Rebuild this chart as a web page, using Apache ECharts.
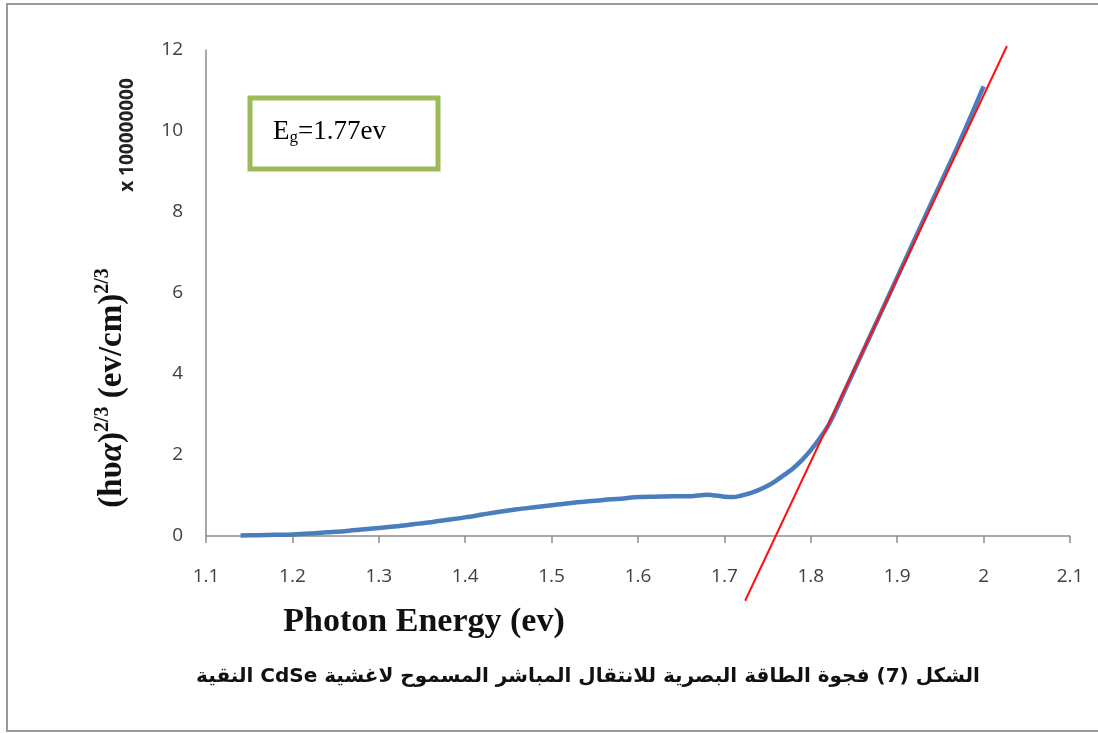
<!DOCTYPE html>
<html>
<head>
<meta charset="utf-8">
<script src="https://cdn.jsdelivr.net/npm/echarts@6/dist/echarts.min.js"></script>
<style>
html,body{margin:0;padding:0;background:#fff;}
#c{width:1098px;height:733px;}
</style>
</head>
<body>
<div id="c"></div>
<script>
// Photon energy (eV) and (hυα)^(2/3) values (x 1e8)
const energy = [1.14,1.16,1.18,1.20,1.22,1.24,1.26,1.28,1.30,1.32,1.34,1.36,1.38,1.40,1.42,1.44,1.46,1.48,1.50,1.52,1.54,1.56,1.58,1.60,1.62,1.64,1.66,1.68,1.70,1.71,1.72,1.73,1.74,1.75,1.76,1.77,1.78,1.79,1.80,1.81,1.82,1.83,1.84,1.85,1.87,1.89,1.91,1.93,1.95,1.97,1.99,2.00];
const absorb = [0.01,0.02,0.03,0.04,0.06,0.09,0.12,0.16,0.20,0.24,0.29,0.34,0.40,0.46,0.53,0.60,0.66,0.71,0.76,0.81,0.85,0.89,0.92,0.96,0.97,0.98,0.98,1.02,0.97,0.96,1.00,1.06,1.14,1.24,1.37,1.52,1.68,1.88,2.12,2.40,2.72,3.15,3.62,4.08,5.00,5.92,6.85,7.78,8.70,9.62,10.60,11.10];
// Linear fit (Tauc extrapolation) endpoints
const fitX = [1.724, 2.027];
const fitY = [-1.6, 12.1];
const xTicks = [1.1,1.2,1.3,1.4,1.5,1.6,1.7,1.8,1.9,2.0,2.1];
const yTicks = [0,2,4,6,8,10,12];

const curve = energy.map((e,i)=>[e,absorb[i]]);
const fit = fitX.map((e,i)=>[e,fitY[i]]);

const chart = echarts.init(document.getElementById('c'));
chart.setOption({
  backgroundColor:'#fff',
  animation:false,
  grid:{left:206,right:28,top:50,bottom:197,containLabel:false},
  xAxis:{
    type:'value',min:1.1,max:2.1,interval:0.1,
    axisLine:{show:true,lineStyle:{color:'#8c8c8c',width:1.5}},
    axisTick:{show:true,inside:false,length:7,lineStyle:{color:'#8c8c8c',width:1.5}},
    splitLine:{show:false},
    axisLabel:{color:'#404040',fontSize:19,fontFamily:'Open Sans',margin:31,
      formatter:v=>{const r=Math.round(v*10)/10;return r===2?'2':r.toFixed(1);}}
  },
  yAxis:{
    type:'value',min:0,max:12,interval:2,
    axisLine:{show:true,lineStyle:{color:'#8c8c8c',width:1.5}},
    axisTick:{show:false},
    splitLine:{show:false},
    axisLabel:{color:'#404040',fontSize:19,fontFamily:'Open Sans',margin:23}
  },
  series:[
    {type:'line',data:curve,showSymbol:false,smooth:0.3,
      lineStyle:{color:'#4A7EBB',width:4.5},z:2},
    {type:'line',data:fit,showSymbol:false,clip:false,
      lineStyle:{color:'#FF1010',width:2},z:3}
  ],
  graphic:[
    {type:'rect',shape:{x:7,y:4,width:1100,height:727},
      style:{fill:'none',stroke:'#9a9a9a',lineWidth:2},silent:true,z:-1},
    {type:'rect',shape:{x:250,y:98,width:188,height:71},
      style:{fill:'#fff',stroke:'#9BBB59',lineWidth:5},z:10},
    {type:'text',x:273,y:117,z:11,
      style:{text:'{e|E}{g|g}{e|=1.77ev}',
        rich:{e:{fontFamily:'Liberation Serif',fontSize:27,fill:'#000'},
              g:{fontFamily:'Liberation Serif',fontSize:17,fill:'#000',verticalAlign:'bottom',padding:[12,0,0,0]}}}},
    {type:'text',x:128,y:135,rotation:Math.PI/2,z:11,
      style:{text:'x 100000000',fontFamily:'Open Sans',fontWeight:'bold',fontSize:19,fill:'#222',
        align:'center',verticalAlign:'middle'}},
    {type:'text',x:112,y:388,rotation:Math.PI/2,z:11,
      style:{text:'{m|(hυ}{i|α}{m|)}{s|2/3}{m| (ev/cm)}{s|2/3}',
        align:'center',verticalAlign:'middle',
        rich:{m:{fontFamily:'Liberation Serif',fontWeight:'bold',fontSize:33,fill:'#111'},
              i:{fontFamily:'Liberation Serif',fontWeight:'bold',fontStyle:'italic',fontSize:33,fill:'#111'},
              s:{fontFamily:'Liberation Serif',fontWeight:'bold',fontSize:20,fill:'#111',padding:[0,0,18,0]}}}},
    {type:'text',x:424,y:622,z:11,
      style:{text:'Photon Energy (ev)',fontFamily:'Liberation Serif',fontWeight:'bold',fontSize:34,fill:'#111',
        align:'center',verticalAlign:'middle'}},
    {type:'text',x:588,y:677,z:11,
      style:{text:'\u202B' + 'الشكل (7) فجوة الطاقة البصرية للانتقال المباشر المسموح لاغشية CdSe النقية' + '\u202C',
        fontFamily:'DejaVu Sans',fontWeight:'bold',fontSize:20,fill:'#111',
        align:'center',verticalAlign:'middle'}}
  ]
});
</script>
</body>
</html>
